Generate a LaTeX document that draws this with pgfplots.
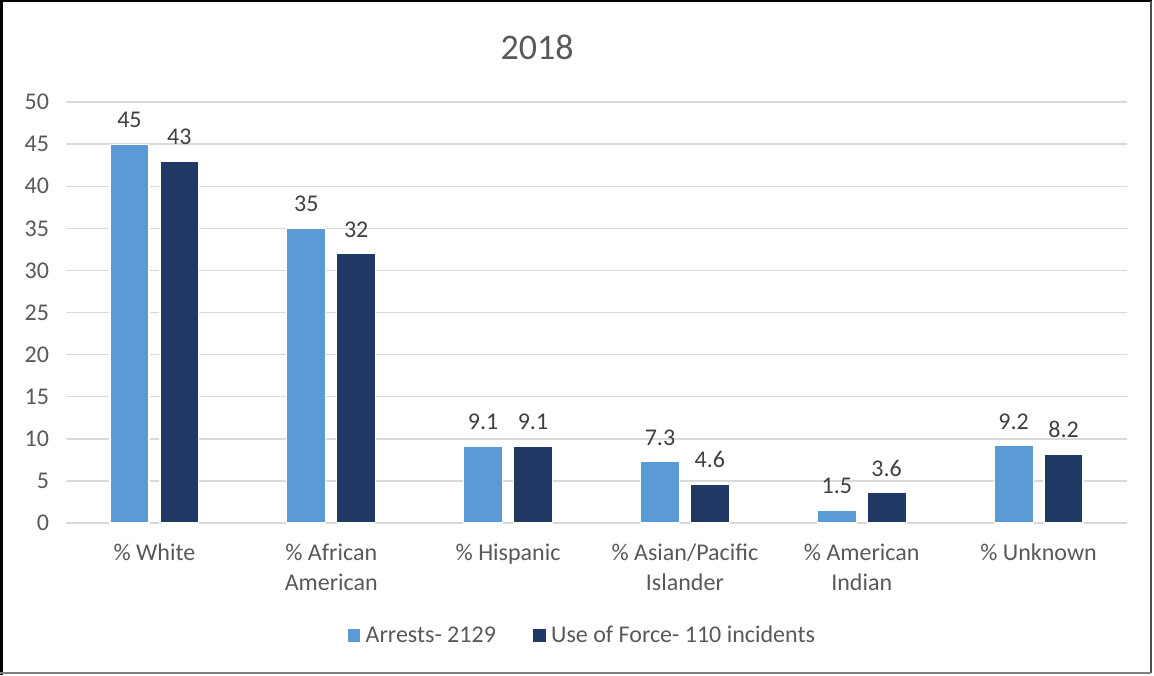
\documentclass[border=0pt]{standalone}
\usepackage{pgfplots}
\pgfplotsset{compat=1.18}
\usepackage{fontspec}
\setmainfont{Carlito}
\definecolor{lblue}{HTML}{5B9BD5}
\definecolor{dblue}{HTML}{203864}
\definecolor{txt}{HTML}{595959}
\definecolor{gridc}{HTML}{D9D9D9}
\begin{document}
\begin{tikzpicture}
\useasboundingbox (0,0) rectangle (577pt,337.5pt);
\fill[white] (0,0) rectangle (577pt,337.5pt);
\draw[black,line width=1.5pt] (0.5pt,0pt) -- (0.5pt,337pt) -- (576pt,337pt);
\draw[black!70,line width=1pt] (575.5pt,337pt) -- (575.5pt,1pt);
\draw[black!50,line width=1pt] (0pt,1pt) -- (575.5pt,1pt);
\node[text=txt,font=\fontsize{18}{21}\selectfont] at (268.5pt,314pt) {2018};
\begin{axis}[
  at={(33pt,76pt)}, anchor=south west,
  scale only axis, width=530.5pt, height=210.5pt,
  ymin=0, ymax=50, ytick={0,5,...,50},
  xmin=-0.5, xmax=5.5,
  xtick={0,...,5},
  xticklabels={{\% White},{\% African\\American},{\% Hispanic},{\% Asian/Pacific\\Islander},{\% American\\Indian},{\% Unknown}},
  xticklabel style={align=center, text=txt, font=\fontsize{12}{15}\selectfont, yshift=-7pt},
  yticklabel style={text=txt, font=\fontsize{12}{14}\selectfont, xshift=-5pt},
  /pgf/number format/assume math mode=true,
  major tick length=0pt,
  axis line style={draw=none},
  ymajorgrids, xmajorgrids=false, grid style={draw=gridc, line width=0.7pt},
  ybar, bar width=0.22,
  nodes near coords,
  every node near coord/.append style={text=black!75, font=\fontsize{12}{14}\selectfont, yshift=4.5pt},
  legend style={at={(0.487,-0.268)}, anchor=center, draw=none, legend columns=2,
    font=\fontsize{12}{14}\selectfont, text=txt,
    /tikz/every even column/.append style={column sep=16pt}},
  legend image code/.code={\fill[#1] (0pt,-3.5pt) rectangle (7pt,3.5pt);},
]
\addplot[fill=lblue, draw=white, line width=0.6pt, bar shift=-0.141] coordinates {(0,45) (1,35) (2,9.1) (3,7.3) (4,1.5) (5,9.2)};
\addplot[fill=dblue, draw=white, line width=0.6pt, bar shift=0.141] coordinates {(0,43) (1,32) (2,9.1) (3,4.6) (4,3.6) (5,8.2)};
\legend{Arrests- 2129, Use of Force- 110 incidents}
\end{axis}
\end{tikzpicture}
\end{document}
